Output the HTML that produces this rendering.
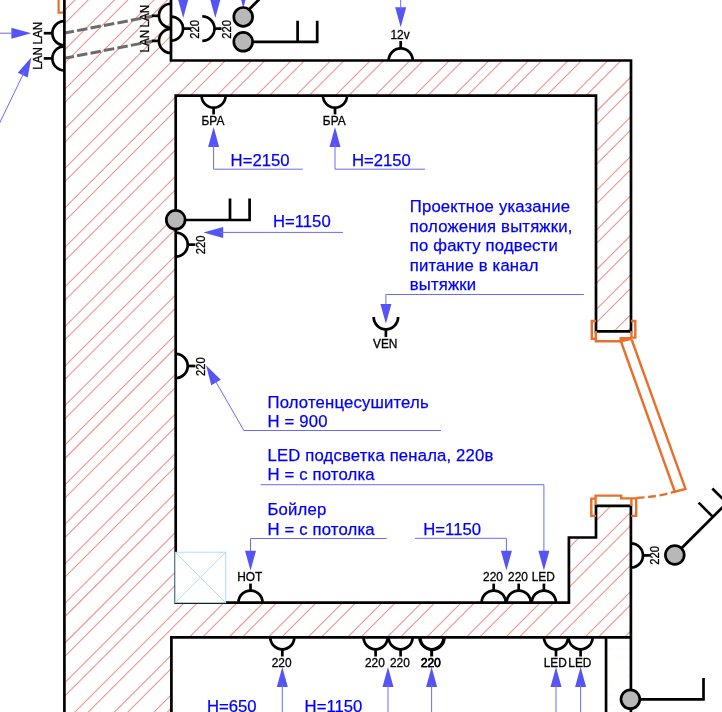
<!DOCTYPE html>
<html><head><meta charset="utf-8"><title>plan</title>
<style>html,body{margin:0;padding:0;background:#fff}body{width:722px;height:712px;overflow:hidden}svg{display:block;will-change:transform;font-family:"Liberation Sans",sans-serif}</style>
</head><body>
<svg width="722" height="712" viewBox="0 0 722 712">
<rect width="722" height="712" fill="#fff"/>
<defs><clipPath id="wc"><polygon points="64.5,0 171,0 171,60.5 631,60.5 631,331.4 596,331.4 596,95.7 175.7,95.7 175.7,602.6 569,602.6 569,537.5 596,537.5 596,505.8 631.2,505.8 631.2,637 171.3,637.4 171.3,712 64.5,712"/></clipPath></defs>
<path clip-path="url(#wc)" d="M-41.76,-2L-757.76,714M-28.46,-2L-744.46,714M-2.20,-2L-718.20,714M11.10,-2L-704.90,714M37.36,-2L-678.64,714M50.66,-2L-665.34,714M76.92,-2L-639.08,714M90.22,-2L-625.78,714M116.48,-2L-599.52,714M129.78,-2L-586.22,714M156.04,-2L-559.96,714M169.34,-2L-546.66,714M195.60,-2L-520.40,714M208.90,-2L-507.10,714M235.16,-2L-480.84,714M248.46,-2L-467.54,714M274.72,-2L-441.28,714M288.02,-2L-427.98,714M314.28,-2L-401.72,714M327.58,-2L-388.42,714M353.84,-2L-362.16,714M367.14,-2L-348.86,714M393.40,-2L-322.60,714M406.70,-2L-309.30,714M432.96,-2L-283.04,714M446.26,-2L-269.74,714M472.52,-2L-243.48,714M485.82,-2L-230.18,714M512.08,-2L-203.92,714M525.38,-2L-190.62,714M551.64,-2L-164.36,714M564.94,-2L-151.06,714M591.20,-2L-124.80,714M604.50,-2L-111.50,714M630.76,-2L-85.24,714M644.06,-2L-71.94,714M670.32,-2L-45.68,714M683.62,-2L-32.38,714M709.88,-2L-6.12,714M723.18,-2L7.18,714M749.44,-2L33.44,714M762.74,-2L46.74,714M789.00,-2L73.00,714M802.30,-2L86.30,714M828.56,-2L112.56,714M841.86,-2L125.86,714M868.12,-2L152.12,714M881.42,-2L165.42,714M907.68,-2L191.68,714M920.98,-2L204.98,714M947.24,-2L231.24,714M960.54,-2L244.54,714M986.80,-2L270.80,714M1000.10,-2L284.10,714M1026.36,-2L310.36,714M1039.66,-2L323.66,714M1065.92,-2L349.92,714M1079.22,-2L363.22,714M1105.48,-2L389.48,714M1118.78,-2L402.78,714M1145.04,-2L429.04,714M1158.34,-2L442.34,714M1184.60,-2L468.60,714M1197.90,-2L481.90,714M1224.16,-2L508.16,714M1237.46,-2L521.46,714M1263.72,-2L547.72,714M1277.02,-2L561.02,714M1303.28,-2L587.28,714M1316.58,-2L600.58,714M1342.84,-2L626.84,714M1356.14,-2L640.14,714M1382.40,-2L666.40,714M1395.70,-2L679.70,714M1421.96,-2L705.96,714M1435.26,-2L719.26,714M1461.52,-2L745.52,714M1474.82,-2L758.82,714M1501.08,-2L785.08,714M1514.38,-2L798.38,714M1540.64,-2L824.64,714M1553.94,-2L837.94,714M1580.20,-2L864.20,714M1593.50,-2L877.50,714M1619.76,-2L903.76,714M1633.06,-2L917.06,714M1659.32,-2L943.32,714M1672.62,-2L956.62,714M1698.88,-2L982.88,714M1712.18,-2L996.18,714M1738.44,-2L1022.44,714M1751.74,-2L1035.74,714" stroke="#f0948a" stroke-width="1.08" fill="none"/>
<path d="M609.0,647.7h1v1h-1zM609.0,657.2h1v1h-1zM609.0,666.5h1v1h-1zM609.0,676.0h1v1h-1zM609.0,685.3h1v1h-1zM609.0,694.8h1v1h-1zM609.0,704.2h1v1h-1zM617.9,647.7h1v1h-1zM617.9,657.2h1v1h-1zM617.9,666.5h1v1h-1zM617.9,676.0h1v1h-1zM617.9,685.3h1v1h-1zM617.9,694.8h1v1h-1zM617.9,704.2h1v1h-1zM626.8,647.7h1v1h-1zM626.8,657.2h1v1h-1zM626.8,666.5h1v1h-1zM626.8,676.0h1v1h-1zM626.8,685.3h1v1h-1zM626.8,694.8h1v1h-1zM626.8,704.2h1v1h-1z" fill="#fdeeb4"/>
<path d="M58.6,-2V12.6H64" fill="none" stroke="#e8702a" stroke-width="2.2"/>
<path d="M63.6,33.2L152.5,16.2M63.6,58.4L152.5,41.2" stroke="#6b6b6b" stroke-width="3" stroke-dasharray="10.5 3.2" fill="none"/>
<path d="M64.4,-2V714" fill="none" stroke="#000" stroke-width="2.7" stroke-linejoin="miter" />
<path d="M171,-2V60.5H631V331.4H596V95.7H175.7V602.6H568.9V537.5H596V505.8H630.9V714" fill="none" stroke="#000" stroke-width="2.7" stroke-linejoin="miter" />
<path d="M630.9,637.3H171.4V714" fill="none" stroke="#000" stroke-width="2.7" stroke-linejoin="miter" />
<path d="M606.05,637V714" fill="none" stroke="#000" stroke-width="2.7" stroke-linejoin="miter" />
<path d="M64.4,21.15A12.05,12.05 0 0 0 64.4,45.25" fill="none" stroke="#000" stroke-width="2.7" stroke-linejoin="miter" />
<path d="M43.8,33.2L52.7,33.2" fill="none" stroke="#000" stroke-width="2.7" stroke-linejoin="miter" />
<text transform="translate(41.8,33.2) rotate(-90) scale(0.98,1)" text-anchor="middle" font-size="11.9" fill="#000" stroke="#000" stroke-width="0.3" >LAN</text>
<path d="M64.4,46.35A12.05,12.05 0 0 0 64.4,70.45" fill="none" stroke="#000" stroke-width="2.7" stroke-linejoin="miter" />
<path d="M43.8,58.4L52.7,58.4" fill="none" stroke="#000" stroke-width="2.7" stroke-linejoin="miter" />
<text transform="translate(41.8,58.4) rotate(-90) scale(0.98,1)" text-anchor="middle" font-size="11.9" fill="#000" stroke="#000" stroke-width="0.3" >LAN</text>
<polygon points="31.30,33.20 11.40,38.70 11.40,27.70" fill="#5555f6"/>
<path d="M-2,33.2H14" fill="none" stroke="#6a6aff" stroke-width="1"/>
<polygon points="31.39,57.19 27.70,77.50 17.79,72.73" fill="#5555f6"/>
<path d="M24.49,71.51L-1.00,124.37" fill="none" stroke="#6a6aff" stroke-width="1"/>
<path d="M171,3.75A12.05,12.05 0 0 0 171,27.85" fill="none" stroke="#000" stroke-width="2.7" stroke-linejoin="miter" />
<path d="M151.9,15.8L159.3,15.8" fill="none" stroke="#000" stroke-width="2.7" stroke-linejoin="miter" />
<text transform="translate(148.8,16.1) rotate(-90) scale(0.98,1)" text-anchor="middle" font-size="11.9" fill="#000" stroke="#000" stroke-width="0.3" >LAN</text>
<path d="M171,28.85A12.05,12.05 0 0 0 171,52.95" fill="none" stroke="#000" stroke-width="2.7" stroke-linejoin="miter" />
<path d="M151.9,40.9L159.3,40.9" fill="none" stroke="#000" stroke-width="2.7" stroke-linejoin="miter" />
<text transform="translate(148.8,41.2) rotate(-90) scale(0.98,1)" text-anchor="middle" font-size="11.9" fill="#000" stroke="#000" stroke-width="0.3" >LAN</text>
<path d="M171,16.55A12.05,12.05 0 0 1 171,40.65" fill="none" stroke="#000" stroke-width="2.7" stroke-linejoin="miter" />
<path d="M183.6,28.6L190.5,28.6" fill="none" stroke="#000" stroke-width="2.7" stroke-linejoin="miter" />
<text transform="translate(199.4,29.4) rotate(-90) scale(0.945,1)" text-anchor="middle" font-size="11.9" fill="#000" stroke="#000" stroke-width="0.3" >220</text>
<path d="M202.3,16.4A12.2,12.2 0 0 1 202.3,40.8" fill="none" stroke="#000" stroke-width="2.7" stroke-linejoin="miter" />
<path d="M214.5,28.6L221.5,28.6" fill="none" stroke="#000" stroke-width="2.7" stroke-linejoin="miter" />
<text transform="translate(231.3,29.4) rotate(-90) scale(0.945,1)" text-anchor="middle" font-size="11.9" fill="#000" stroke="#000" stroke-width="0.3" >220</text>
<polygon points="183.20,17.90 177.70,-2.00 188.70,-2.00" fill="#5555f6"/>
<polygon points="215.30,17.90 209.80,-2.00 220.80,-2.00" fill="#5555f6"/>
<path d="M249.5,9L262,-3.5" fill="none" stroke="#000" stroke-width="2.7" stroke-linejoin="miter" />
<path d="M252,41.8H318.4M297.6,20.8V43.1M317.2,20.8V43.1" fill="none" stroke="#000" stroke-width="2.7" stroke-linejoin="miter" />
<polygon points="243.30,7.90 237.80,-12.00 248.80,-12.00" fill="#5555f6"/>
<circle cx="243.2" cy="16.9" r="9.4" fill="#b8b8b8" stroke="#000" stroke-width="2.7"/>
<circle cx="243.2" cy="41.8" r="9.4" fill="#b8b8b8" stroke="#000" stroke-width="2.7"/>
<path d="M388.65,60.5A12.05,12.05 0 0 1 412.75,60.5" fill="none" stroke="#000" stroke-width="2.7" stroke-linejoin="miter" />
<path d="M400.7,41L400.7,49" fill="none" stroke="#000" stroke-width="2.7" stroke-linejoin="miter" />
<text x="400" y="39.3" text-anchor="middle" font-size="11.9" fill="#000" stroke="#000" stroke-width="0.3" >12v</text>
<polygon points="400.70,27.20 395.20,7.30 406.20,7.30" fill="#5555f6"/>
<path d="M400.7,-2V10" fill="none" stroke="#6a6aff" stroke-width="1"/>
<path d="M201.55,95.6A12.05,12.05 0 0 0 225.65,95.6" fill="none" stroke="#000" stroke-width="2.7" stroke-linejoin="miter" />
<path d="M213.6,107.3L213.6,114.4" fill="none" stroke="#000" stroke-width="2.7" stroke-linejoin="miter" />
<text x="212.9" y="125" text-anchor="middle" font-size="11.9" fill="#000" stroke="#000" stroke-width="0.3" >БРА</text>
<polygon points="213.60,127.10 219.10,147.00 208.10,147.00" fill="#5555f6"/>
<path d="M322.95,95.6A12.05,12.05 0 0 0 347.05,95.6" fill="none" stroke="#000" stroke-width="2.7" stroke-linejoin="miter" />
<path d="M335,107.3L335,114.4" fill="none" stroke="#000" stroke-width="2.7" stroke-linejoin="miter" />
<text x="334.3" y="125" text-anchor="middle" font-size="11.9" fill="#000" stroke="#000" stroke-width="0.3" >БРА</text>
<polygon points="335.00,127.10 340.50,147.00 329.50,147.00" fill="#5555f6"/>
<path d="M213.6,144V169.2H302.8" fill="none" stroke="#6a6aff" stroke-width="1"/>
<path d="M335,144V169.2H425" fill="none" stroke="#6a6aff" stroke-width="1"/>
<text x="230.6" y="165.7" font-size="16.7" fill="#0000ff" stroke="#0000ff" stroke-width="0.25" letter-spacing="0.17"  style="letter-spacing:0">H=2150</text>
<text x="351.9" y="165.8" font-size="16.7" fill="#0000ff" stroke="#0000ff" stroke-width="0.25" letter-spacing="0.17"  style="letter-spacing:0">H=2150</text>
<path d="M185,220H250.8M230,198.6V221.3M249.6,198.6V221.3" fill="none" stroke="#000" stroke-width="2.7" stroke-linejoin="miter" />
<circle cx="175.7" cy="219.8" r="9.4" fill="#b8b8b8" stroke="#000" stroke-width="2.7"/>
<path d="M175.7,232.55A12.05,12.05 0 0 1 175.7,256.65" fill="none" stroke="#000" stroke-width="2.7" stroke-linejoin="miter" />
<path d="M188.3,244.6L195.4,244.6" fill="none" stroke="#000" stroke-width="2.7" stroke-linejoin="miter" />
<text transform="translate(204.5,245) rotate(-90) scale(0.945,1)" text-anchor="middle" font-size="11.9" fill="#000" stroke="#000" stroke-width="0.3" >220</text>
<polygon points="203.30,232.40 223.20,226.90 223.20,237.90" fill="#5555f6"/>
<path d="M220,232.4H343" fill="none" stroke="#6a6aff" stroke-width="1"/>
<text x="273" y="227.1" font-size="16.7" fill="#0000ff" stroke="#0000ff" stroke-width="0.25" letter-spacing="0.17"  style="letter-spacing:0">H=1150</text>
<path d="M175.7,353.95A12.05,12.05 0 0 1 175.7,378.05" fill="none" stroke="#000" stroke-width="2.7" stroke-linejoin="miter" />
<path d="M188.3,366L195.4,366" fill="none" stroke="#000" stroke-width="2.7" stroke-linejoin="miter" />
<text transform="translate(204.5,366.7) rotate(-90) scale(0.945,1)" text-anchor="middle" font-size="11.9" fill="#000" stroke="#000" stroke-width="0.3" >220</text>
<polygon points="206.05,365.22 220.78,379.68 211.27,385.20" fill="#5555f6"/>
<path d="M213.82,378.28L243.9,430.5H441" fill="none" stroke="#6a6aff" stroke-width="1"/>
<text x="409.8" y="212.4" font-size="16.7" fill="#0000ff" stroke="#0000ff" stroke-width="0.25" letter-spacing="0.17" >Проектное указание</text>
<text x="409.8" y="231.9" font-size="16.7" fill="#0000ff" stroke="#0000ff" stroke-width="0.25" letter-spacing="0.17" >положения вытяжки,</text>
<text x="409.8" y="251.4" font-size="16.7" fill="#0000ff" stroke="#0000ff" stroke-width="0.25" letter-spacing="0.17" >по факту подвести</text>
<text x="409.8" y="270.9" font-size="16.7" fill="#0000ff" stroke="#0000ff" stroke-width="0.25" letter-spacing="0.17" >питание в канал</text>
<text x="409.8" y="290.4" font-size="16.7" fill="#0000ff" stroke="#0000ff" stroke-width="0.25" letter-spacing="0.17" >вытяжки</text>
<path d="M583.8,294.5H385.9V306" fill="none" stroke="#6a6aff" stroke-width="1"/>
<polygon points="385.90,323.80 380.40,303.90 391.40,303.90" fill="#5555f6"/>
<path d="M373.7,317.0A12.2,12.4 0 0 0 398.1,317.0" fill="none" stroke="#000" stroke-width="2.7" stroke-linejoin="miter" />
<path d="M385.9,329L385.9,337.1" fill="none" stroke="#000" stroke-width="2.7" stroke-linejoin="miter" />
<text x="385.2" y="347.6" text-anchor="middle" font-size="11.9" fill="#000" stroke="#000" stroke-width="0.3" >VEN</text>
<text x="267.5" y="407.7" font-size="16.7" fill="#0000ff" stroke="#0000ff" stroke-width="0.25" letter-spacing="0.17" >Полотенцесушитель</text>
<text x="267.5" y="427" font-size="16.7" fill="#0000ff" stroke="#0000ff" stroke-width="0.25" letter-spacing="0.17" >H = 900</text>
<text x="267.5" y="460.5" font-size="16.7" fill="#0000ff" stroke="#0000ff" stroke-width="0.25" letter-spacing="0.17" >LED подсветка пенала, 220в</text>
<text x="267.5" y="480.2" font-size="16.7" fill="#0000ff" stroke="#0000ff" stroke-width="0.25" letter-spacing="0.17" >H = с потолка</text>
<path d="M260.6,484.7H543.9V555" fill="none" stroke="#6a6aff" stroke-width="1"/>
<text x="267.5" y="514.6" font-size="16.7" fill="#0000ff" stroke="#0000ff" stroke-width="0.25" letter-spacing="0.17" >Бойлер</text>
<text x="267.5" y="534.5" font-size="16.7" fill="#0000ff" stroke="#0000ff" stroke-width="0.25" letter-spacing="0.17" >H = с потолка</text>
<path d="M386.7,538.5H250.5V555" fill="none" stroke="#6a6aff" stroke-width="1"/>
<text x="423.3" y="534.8" font-size="16.7" fill="#0000ff" stroke="#0000ff" stroke-width="0.25" letter-spacing="0.17"  style="letter-spacing:0">H=1150</text>
<path d="M415,538.3H506.4V555" fill="none" stroke="#6a6aff" stroke-width="1"/>
<polygon points="250.50,570.60 245.00,550.70 256.00,550.70" fill="#5555f6"/>
<polygon points="506.40,570.60 500.90,550.70 511.90,550.70" fill="#5555f6"/>
<polygon points="543.90,570.60 538.40,550.70 549.40,550.70" fill="#5555f6"/>
<rect x="175.2" y="552.2" width="50.5" height="50.5" fill="#fff" stroke="#a6dbf7" stroke-width="0.9"/>
<path d="M175.2,552.2L225.7,602.7M225.7,552.2L175.2,602.7" stroke="#a6dbf7" stroke-width="0.9"/>
<path d="M238.45,602.6A12.05,12.05 0 0 1 262.55,602.6" fill="none" stroke="#000" stroke-width="2.7" stroke-linejoin="miter" />
<path d="M250.5,583.6L250.5,590.5" fill="none" stroke="#000" stroke-width="2.7" stroke-linejoin="miter" />
<text x="249.8" y="581.1" text-anchor="middle" font-size="11.9" fill="#000" stroke="#000" stroke-width="0.3" >HOT</text>
<path d="M481.65,602.6A12.05,12.05 0 0 1 505.75,602.6" fill="none" stroke="#000" stroke-width="2.7" stroke-linejoin="miter" />
<path d="M493.7,583.6L493.7,590.5" fill="none" stroke="#000" stroke-width="2.7" stroke-linejoin="miter" />
<text x="493" y="580.5" text-anchor="middle" font-size="11.9" fill="#000" stroke="#000" stroke-width="0.3" >220</text>
<path d="M506.65,602.6A12.05,12.05 0 0 1 530.75,602.6" fill="none" stroke="#000" stroke-width="2.7" stroke-linejoin="miter" />
<path d="M518.7,583.6L518.7,590.5" fill="none" stroke="#000" stroke-width="2.7" stroke-linejoin="miter" />
<text x="518" y="580.5" text-anchor="middle" font-size="11.9" fill="#000" stroke="#000" stroke-width="0.3" >220</text>
<path d="M531.85,602.6A12.05,12.05 0 0 1 555.95,602.6" fill="none" stroke="#000" stroke-width="2.7" stroke-linejoin="miter" />
<path d="M543.9,583.6L543.9,590.5" fill="none" stroke="#000" stroke-width="2.7" stroke-linejoin="miter" />
<text x="543.2" y="580.5" text-anchor="middle" font-size="11.9" fill="#000" stroke="#000" stroke-width="0.3" >LED</text>
<path d="M270.25,637.3A12.05,12.05 0 0 0 294.35,637.3" fill="none" stroke="#000" stroke-width="2.7" stroke-linejoin="miter" />
<path d="M282.3,649L282.3,656.5" fill="none" stroke="#000" stroke-width="2.7" stroke-linejoin="miter" />
<text x="281.6" y="666.5" text-anchor="middle" font-size="11.9" fill="#000" stroke="#000" stroke-width="0.3" >220</text>
<path d="M363.55,637.3A12.05,12.05 0 0 0 387.65,637.3" fill="none" stroke="#000" stroke-width="2.7" stroke-linejoin="miter" />
<path d="M375.6,649L375.6,656.5" fill="none" stroke="#000" stroke-width="2.7" stroke-linejoin="miter" />
<text x="374.9" y="666.5" text-anchor="middle" font-size="11.9" fill="#000" stroke="#000" stroke-width="0.3" >220</text>
<path d="M388.55,637.3A12.05,12.05 0 0 0 412.65,637.3" fill="none" stroke="#000" stroke-width="2.7" stroke-linejoin="miter" />
<path d="M400.6,649L400.6,656.5" fill="none" stroke="#000" stroke-width="2.7" stroke-linejoin="miter" />
<text x="399.9" y="666.5" text-anchor="middle" font-size="11.9" fill="#000" stroke="#000" stroke-width="0.3" >220</text>
<path d="M543.95,637.3A12.05,12.05 0 0 0 568.05,637.3" fill="none" stroke="#000" stroke-width="2.7" stroke-linejoin="miter" />
<path d="M556,649L556,656.5" fill="none" stroke="#000" stroke-width="2.7" stroke-linejoin="miter" />
<text x="555.3" y="666.5" text-anchor="middle" font-size="11.9" fill="#000" stroke="#000" stroke-width="0.3" >LED</text>
<path d="M568.55,637.3A12.05,12.05 0 0 0 592.65,637.3" fill="none" stroke="#000" stroke-width="2.7" stroke-linejoin="miter" />
<path d="M580.6,649L580.6,656.5" fill="none" stroke="#000" stroke-width="2.7" stroke-linejoin="miter" />
<text x="579.9" y="666.5" text-anchor="middle" font-size="11.9" fill="#000" stroke="#000" stroke-width="0.3" >LED</text>
<path d="M419.5,637.3A12.05,12.05 0 0 0 443.6,637.3" fill="none" stroke="#000" stroke-width="2.7" stroke-linejoin="miter" />
<path d="M420.35,637.5A12.05,12.05 0 0 0 444.45,637.5" fill="none" stroke="#000" stroke-width="2.7" stroke-linejoin="miter" />
<path d="M431.65,649L431.65,656.5" fill="none" stroke="#000" stroke-width="3" stroke-linejoin="miter" />
<text x="430.6" y="666.6" text-anchor="middle" font-size="11.9" fill="#000" stroke="#000" stroke-width="0.3" >220</text>
<text x="431" y="666.7" text-anchor="middle" font-size="11.9" fill="#000" stroke="#000" stroke-width="0.3" >220</text>
<polygon points="282.30,667.10 287.80,687.00 276.80,687.00" fill="#5555f6"/>
<path d="M282.3,684V714" fill="none" stroke="#6a6aff" stroke-width="1"/>
<polygon points="388.00,667.10 393.50,687.00 382.50,687.00" fill="#5555f6"/>
<path d="M388,684V714" fill="none" stroke="#6a6aff" stroke-width="1"/>
<polygon points="431.60,667.10 437.10,687.00 426.10,687.00" fill="#5555f6"/>
<path d="M431.6,684V714" fill="none" stroke="#6a6aff" stroke-width="1"/>
<polygon points="556.00,667.10 561.50,687.00 550.50,687.00" fill="#5555f6"/>
<path d="M556,684V714" fill="none" stroke="#6a6aff" stroke-width="1"/>
<polygon points="580.60,667.10 586.10,687.00 575.10,687.00" fill="#5555f6"/>
<path d="M580.6,684V714" fill="none" stroke="#6a6aff" stroke-width="1"/>
<text x="206.9" y="711.6" font-size="16.7" fill="#0000ff" stroke="#0000ff" stroke-width="0.25" letter-spacing="0.17"  style="letter-spacing:0">H=650</text>
<text x="304.6" y="711.6" font-size="16.7" fill="#0000ff" stroke="#0000ff" stroke-width="0.25" letter-spacing="0.17"  style="letter-spacing:0">H=1150</text>
<path d="M630.9,543.35A12.05,12.05 0 0 1 630.9,567.45" fill="none" stroke="#000" stroke-width="2.7" stroke-linejoin="miter" />
<path d="M643.8,555.4L650,555.4" fill="none" stroke="#000" stroke-width="2.7" stroke-linejoin="miter" />
<text transform="translate(659.2,555.3) rotate(-90) scale(0.945,1)" text-anchor="middle" font-size="11.9" fill="#000" stroke="#000" stroke-width="0.3" >220</text>
<path d="M681,548.8L724,505.8M698.6,502.6L712.9,516.9M712.3,488.5L724,500.2" fill="none" stroke="#000" stroke-width="2.7" stroke-linejoin="miter" />
<circle cx="674.8" cy="555" r="9.4" fill="#b8b8b8" stroke="#000" stroke-width="2.7"/>
<path d="M640,699.4H704.7M703.5,677.9V700.6" fill="none" stroke="#000" stroke-width="2.7" stroke-linejoin="miter" />
<circle cx="630.4" cy="699.3" r="9.4" fill="#b8b8b8" stroke="#000" stroke-width="2.7"/>
<path d="M596,321H591.8V338.7H596M595.8,331V341.3H621" fill="none" stroke="#e8702a" stroke-width="2.4" />
<path d="M631,321H635.3V337.6H631M631.4,331V338" fill="none" stroke="#e8702a" stroke-width="2.4" />
<polygon points="619.5,337 631.8,337 631.8,340 621.8,342.2 619.5,340.5" fill="#e8702a"/>
<path d="M621,341.5L674.8,491.7L685.5,488.9L631.6,339.5" fill="none" stroke="#e8702a" stroke-width="2.4" />
<path d="M636.4,498Q657,497 674.8,491.7" fill="none" stroke="#e8702a" stroke-width="2.4" stroke-dasharray="8 3.6"/>
<path d="M596,498.6H591.3V515.9H596" fill="none" stroke="#e8702a" stroke-width="2.4" />
<path d="M595.6,505V495.6H621.2V498.4H636.2V515.9H631.2M631.4,498V506" fill="none" stroke="#e8702a" stroke-width="2.4" />
</svg>
</body></html>
